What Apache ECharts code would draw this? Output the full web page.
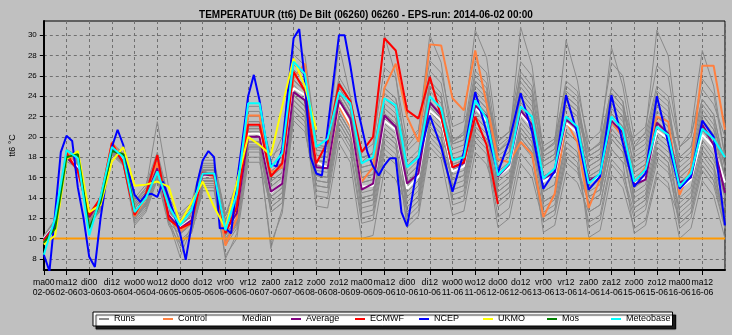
<!DOCTYPE html>
<html><head><meta charset="utf-8">
<script src="https://cdn.jsdelivr.net/npm/echarts@6/dist/echarts.min.js"></script>
<style>html,body{margin:0;padding:0;background:#c0c0c0}#c{width:732px;height:335px}</style>
</head><body><div id="c"></div><script>
// ---------- DATA ----------
const titleText = 'TEMPERATUUR (tt6) De Bilt (06260) 06260 - EPS-run: 2014-06-02 00:00';
const yTickValues = [8,10,12,14,16,18,20,22,24,26,28,30];
const dayTimeLabels = ['ma00','ma12','di00','di12','wo00','wo12','do00','do12','vr00','vr12','za00','za12','zo00','zo12','ma00','ma12','di00','di12','wo00','wo12','do00','do12','vr00','vr12','za00','za12','zo00','zo12','ma00','ma12'];
const dateLabels = ['02-06','02-06','03-06','03-06','04-06','04-06','05-06','05-06','06-06','06-06','07-06','07-06','08-06','08-06','09-06','09-06','10-06','10-06','11-06','11-06','12-06','12-06','13-06','13-06','14-06','14-06','15-06','15-06','16-06','16-06'];
const thresholdHours = [0, 360];
const thresholdValues = [10, 10];

function range(a,b,s){const r=[];for(let h=a;h<=b;h+=s)r.push(h);return r;}
const hours6 = range(0,360,6);
const hoursEcmwf = range(0,240,6);
const hoursUkmo = range(0,144,6);
const hoursMos = range(0,48,6);
const hoursNcep = range(0,192,3).concat(range(198,360,6));

// ensemble members (6-hourly, 0..360h)
const run01=[10.1,11.7,18.4,17.7,12.4,13.7,19.2,18.2,13.3,14.6,17.8,13.3,11.5,12.5,16.7,16.7,12.3,14.0,21.5,21.5,17.1,18.0,27.1,26.0,19.2,19.0,25.4,23.5,18.5,19.3,26.8,25.8,19.6,20.7,27.5,26.3,21.0,21.5,30.5,27.8,19.5,20.5,27.4,26.0,18.6,19.5,25.5,24.5,19.5,20.5,27.3,26.0,20.0,21.0,27.0,26.0,19.0,20.0,25.7,24.2,18.0];
const run02=[9.7,11.3,18.0,17.3,11.5,12.8,18.3,17.3,11.7,13.0,16.2,11.7,8.2,11.0,15.2,15.2,9.3,11.0,18.5,18.5,9.0,13.0,22.1,21.0,14.2,14.0,20.4,18.5,11.5,11.8,18.3,17.3,12.6,13.7,20.5,19.3,13.8,14.2,20.0,18.8,12.1,13.0,18.4,17.0,12.1,12.8,18.0,17.0,11.6,12.3,17.8,16.5,12.5,13.3,18.0,17.0,11.5,12.5,17.2,15.7,12.0];
const run03=[10.2,11.8,18.5,17.8,12.6,13.9,19.4,18.4,14.0,15.3,18.5,14.0,12.2,13.2,17.4,17.4,12.3,15.0,22.5,22.5,18.1,19.0,28.1,27.0,19.7,19.5,25.9,24.0,16.5,16.8,23.3,22.3,15.6,16.7,23.5,22.3,15.8,16.2,22.0,20.8,14.1,15.0,20.4,19.0,14.6,15.3,20.5,19.5,16.1,16.8,22.3,21.0,17.5,18.3,23.0,22.0,18.0,19.0,23.7,22.2,17.0];
const run04=[9.6,11.2,17.9,17.2,11.7,13.0,18.5,17.5,13.0,14.3,17.5,13.0,10.5,11.5,15.7,15.7,10.0,11.7,19.2,19.2,13.1,14.0,23.1,22.0,15.2,15.0,21.4,19.5,14.0,14.3,20.8,19.8,16.1,17.2,24.0,22.8,19.3,19.7,25.5,24.3,18.6,19.8,26.4,25.0,18.5,19.5,29.5,25.5,18.6,19.3,24.8,23.5,16.5,17.3,22.0,21.0,14.0,15.0,19.7,18.2,14.0];
const run05=[10.0,11.6,18.3,17.6,12.2,13.5,19.0,18.0,12.0,13.3,16.5,12.0,11.8,12.8,17.0,17.0,11.8,13.5,21.0,21.0,15.1,16.0,25.1,24.0,16.2,16.0,22.4,20.5,12.5,12.8,19.3,18.3,11.6,12.7,19.5,18.3,14.8,15.2,21.0,19.8,16.1,17.0,22.4,21.0,17.1,17.8,23.0,22.0,18.1,18.8,24.3,23.0,19.5,20.3,25.0,24.0,19.0,20.5,28.5,25.0,18.0];
const run06=[9.8,11.4,18.1,17.4,11.8,13.1,18.6,17.6,12.8,14.1,17.3,12.8,10.4,11.4,15.6,15.6,11.3,13.0,20.5,20.5,16.1,17.0,26.1,25.0,19.0,18.8,25.2,23.3,17.5,18.5,30.0,26.0,17.1,18.2,25.0,23.8,17.3,17.7,23.5,22.3,14.6,15.5,20.9,19.5,12.6,13.3,18.5,17.5,11.1,11.8,17.3,16.0,12.0,12.8,17.5,16.5,13.0,14.0,18.7,17.2,13.0];
const run07=[10.3,11.9,18.6,17.9,12.5,13.8,19.3,18.3,13.5,15.0,21.5,15.0,11.3,12.3,16.5,16.5,10.3,12.0,19.5,19.5,13.6,14.5,23.6,22.5,17.7,17.5,23.9,22.0,17.0,17.3,23.8,22.8,18.6,19.7,26.5,25.3,19.5,20.5,27.5,26.3,18.6,19.5,24.9,23.5,16.1,16.8,22.0,21.0,14.1,14.8,20.3,19.0,13.0,13.8,18.5,17.5,11.0,12.0,16.7,15.2,11.0];
const run08=[9.5,11.1,17.8,17.1,11.4,12.7,18.2,17.2,12.2,13.5,16.7,12.2,10.7,11.7,15.9,15.9,11.1,12.8,20.3,20.3,15.6,16.5,25.6,24.5,18.7,18.5,24.9,23.0,15.0,15.3,21.8,20.8,13.6,14.7,21.5,20.3,13.3,13.7,19.5,18.3,11.1,12.0,17.4,16.0,11.6,12.3,17.5,16.5,13.6,14.3,19.8,18.5,15.5,16.3,21.0,20.0,16.5,17.5,22.2,20.7,16.0];
const run09=[9.9,11.5,18.2,17.5,12.3,13.6,19.1,18.1,13.3,14.6,17.8,13.3,11.8,12.8,17.0,17.0,11.8,14.5,22.0,22.0,16.6,17.5,26.6,25.5,18.2,18.0,24.4,22.5,18.0,18.3,24.8,23.8,19.0,20.5,30.0,27.3,19.5,20.2,26.5,25.3,17.6,18.5,23.9,22.5,18.1,18.8,24.0,23.0,18.5,19.5,28.8,25.0,18.5,19.3,24.0,23.0,17.0,18.0,22.7,21.2,17.0];
const run10=[10.1,11.2,18.0,17.3,11.7,13.0,18.5,17.5,12.3,13.6,16.8,12.3,9.8,10.8,15.0,15.0,8.0,10.5,18.0,18.0,9.5,12.5,21.6,20.5,15.2,15.0,21.4,19.5,14.0,14.3,20.8,19.8,15.1,16.2,23.0,21.8,17.8,18.2,24.0,22.8,18.1,19.0,24.4,23.0,19.1,19.8,25.0,24.0,17.1,17.8,23.3,22.0,14.5,15.3,20.0,19.0,12.5,13.5,18.2,16.7,12.0];
const run11=[9.7,11.6,18.4,17.7,12.1,13.4,18.9,17.9,13.7,15.0,18.2,13.7,11.2,12.2,16.4,16.4,11.6,13.3,20.8,20.8,14.1,15.0,24.1,23.0,15.7,15.5,21.9,20.0,16.0,16.3,22.8,21.8,17.1,18.2,25.0,23.8,16.3,16.7,22.5,21.3,13.6,14.5,19.9,18.5,10.6,11.3,16.5,15.5,12.6,13.3,18.8,17.5,10.5,11.3,16.0,15.0,12.0,13.0,17.7,16.2,12.0];
const run12=[10.2,11.5,18.2,17.5,12.0,13.3,18.8,17.8,12.5,13.8,17.0,12.5,12.5,13.5,17.7,17.7,12.3,15.5,23.0,23.0,17.5,20.0,29.1,28.0,19.7,19.5,29.0,24.0,18.0,18.3,24.8,23.8,16.6,17.7,24.5,23.3,18.8,19.2,25.0,23.8,19.6,20.5,25.9,24.5,17.1,17.8,23.0,22.0,15.6,16.3,21.8,20.5,13.5,14.3,19.0,18.0,15.0,16.0,20.7,19.2,15.0];
const run13=[9.6,11.9,17.6,16.9,12.4,13.7,19.2,18.2,11.9,13.2,16.4,11.9,9.0,11.2,15.4,15.4,9.8,11.5,19.0,19.0,14.6,15.5,24.6,23.5,17.7,17.5,23.9,22.0,13.5,13.8,20.3,19.3,11.1,12.2,19.0,17.8,12.3,12.7,18.5,17.3,13.6,14.5,19.9,18.5,15.6,16.3,21.5,20.5,17.6,18.3,23.8,22.5,19.0,20.5,30.5,28.0,19.0,20.0,24.7,23.2,20.0];
const run14=[10.0,11.1,18.8,18.1,11.6,12.9,18.4,17.4,13.1,14.4,17.6,13.1,11.6,12.6,16.8,16.8,10.8,12.5,20.0,20.0,12.6,13.5,22.6,21.5,13.2,13.0,19.4,17.5,10.0,10.3,16.8,15.8,13.1,14.2,21.0,19.8,17.3,17.7,23.5,22.3,17.1,18.0,23.4,22.0,13.6,14.3,19.5,18.5,10.1,10.8,16.3,15.0,11.0,11.8,16.5,15.5,10.0,11.0,15.7,14.2,10.0];
const run15=[9.9,11.5,18.2,17.5,12.2,13.5,19.0,18.0,12.1,13.4,16.6,12.1,11.0,12.0,16.2,16.2,11.0,13.7,21.2,21.2,15.6,16.5,25.6,24.5,19.2,19.0,25.4,23.5,14.5,14.8,21.3,20.3,14.1,15.2,22.0,20.8,18.3,18.7,24.5,23.3,18.5,19.5,30.8,27.0,18.6,19.3,24.5,23.5,16.6,17.3,22.8,21.5,19.0,19.8,24.5,23.5,16.0,17.0,21.7,20.2,16.0];
const run16=[9.8,11.4,18.4,17.3,11.5,12.8,18.6,17.6,13.0,14.3,16.5,12.8,11.5,12.5,16.7,16.2,10.3,12.0,20.5,20.0,15.1,16.0,24.1,23.0,16.7,16.5,23.9,22.0,15.5,15.8,22.3,21.3,15.1,16.2,23.0,21.8,16.8,17.2,23.0,21.8,15.6,16.5,21.9,20.5,16.1,16.8,22.0,21.0,15.1,15.8,21.3,20.0,16.0,16.8,21.5,20.5,15.5,16.5,21.2,19.7,15.0];
const run17=[10.0,11.6,18.3,17.6,11.8,13.1,18.6,17.6,13.0,14.3,17.5,13.0,9.5,10.5,14.7,14.7,10.3,12.0,19.5,19.5,16.1,17.0,26.1,25.0,16.2,16.0,22.4,20.5,17.5,17.8,24.3,23.3,12.1,13.2,20.0,18.8,19.8,20.2,26.0,24.8,14.1,15.0,20.4,19.0,17.6,18.3,23.5,22.5,12.6,13.3,18.8,17.5,16.5,17.3,22.0,21.0,13.5,14.5,19.2,17.7,15.0];
const run18=[9.7,11.3,18.0,17.3,12.3,13.6,19.1,18.1,12.2,13.5,16.7,12.2,11.3,12.3,16.5,16.5,11.6,13.3,20.8,20.8,14.1,15.0,24.1,23.0,18.2,18.0,24.4,22.5,13.0,13.3,19.8,18.8,17.6,18.7,25.5,24.3,14.8,15.2,21.0,19.8,19.1,20.0,25.4,24.0,13.1,13.8,19.0,18.0,18.1,18.8,24.3,23.0,14.0,14.8,19.5,18.5,18.0,19.0,23.7,22.2,17.0];
const run19=[10.1,11.7,18.4,17.7,12.5,13.8,19.3,18.3,13.5,14.8,18.0,13.5,11.0,12.0,16.2,16.2,9.6,11.3,18.8,18.8,12.6,13.5,22.6,21.5,16.2,16.0,22.4,20.5,15.0,15.3,21.8,20.8,17.1,18.2,25.0,23.8,17.8,18.2,24.0,22.8,15.1,16.0,21.4,20.0,13.6,14.3,19.5,18.5,14.6,15.3,20.8,19.5,17.0,17.8,22.5,21.5,17.5,18.5,23.2,21.7,16.0];
const run20=[9.8,11.4,18.1,17.4,11.7,13.0,18.5,17.5,12.0,13.3,16.5,12.0,11.3,12.3,16.5,16.5,11.3,13.0,20.5,20.5,15.6,16.5,25.6,24.5,14.7,14.5,20.9,19.0,12.0,12.3,18.8,17.8,14.1,15.2,22.0,20.8,16.8,17.2,23.0,21.8,17.6,18.5,23.9,22.5,16.1,16.8,22.0,21.0,14.1,14.8,20.3,19.0,15.0,15.8,20.5,19.5,11.5,12.5,17.2,15.7,11.0];
const run21=[9.9,11.5,18.2,17.5,12.0,13.3,18.8,17.8,12.8,14.1,17.3,12.8,11.5,12.5,16.7,16.7,10.3,12.0,19.5,19.5,14.6,15.5,24.6,23.5,18.7,18.5,24.9,23.0,16.0,16.3,22.8,21.8,14.6,15.7,22.5,21.3,15.3,15.7,21.5,20.3,16.6,17.5,22.9,21.5,18.1,18.8,24.0,23.0,17.1,17.8,23.3,22.0,13.5,14.3,19.0,18.0,16.0,17.0,21.7,20.2,14.0];
const run22=[10.2,11.8,18.5,17.8,11.9,13.2,18.7,17.7,11.5,12.8,16.0,11.5,10.5,11.5,15.7,15.7,9.8,11.5,19.0,19.0,13.6,14.5,23.6,22.5,17.2,17.0,23.4,21.5,15.5,15.8,22.3,21.3,13.1,14.2,21.0,19.8,14.3,14.7,20.5,19.3,14.6,15.5,20.9,19.5,14.6,15.3,20.5,19.5,16.1,16.8,22.3,21.0,16.5,17.3,22.0,21.0,15.0,16.0,20.7,19.2,15.0];
const run23=[9.9,11.7,18.2,17.7,12.2,13.5,19.0,18.0,12.5,13.8,17.0,12.5,12.0,13.0,17.2,17.2,12.3,14.0,21.5,21.5,16.6,17.5,26.6,25.5,17.7,17.5,23.9,22.0,17.0,17.3,23.8,22.8,16.1,17.2,24.0,22.8,19.3,19.7,25.5,24.3,19.6,20.5,25.9,24.5,17.6,18.3,23.5,22.5,18.6,19.3,24.8,23.5,18.0,18.8,23.5,22.5,16.5,17.5,22.2,20.7,18.0];
const run24=[9.6,11.2,17.9,17.2,11.6,12.9,18.4,17.4,11.3,12.6,15.8,11.3,9.5,10.5,14.7,14.7,8.3,10.0,17.5,17.5,13.1,14.0,23.1,22.0,15.7,15.5,21.9,20.0,13.5,13.8,20.3,19.3,12.6,13.7,20.5,19.3,15.8,16.2,22.0,20.8,13.1,14.0,19.4,18.0,12.1,12.8,18.0,17.0,13.6,14.3,19.8,18.5,13.0,13.8,18.5,17.5,13.0,14.0,18.7,17.2,11.0];
const runs = [run01,run02,run03,run04,run05,run06,run07,run08,run09,run10,run11,run12,run13,run14,run15,run16,run17,run18,run19,run20,run21,run22,run23,run24];

const control=[9.7,11.3,18.6,17.0,12.0,13.9,19.5,17.8,12.2,14.0,17.5,12.1,10.7,11.6,16.4,16.0,9.3,12.0,22.1,22.1,16.5,17.0,25.8,27.2,17.5,17.0,23.0,21.0,15.6,17.0,24.8,27.2,22.0,19.5,29.1,29.0,23.8,22.6,28.5,23.3,17.8,17.5,19.5,18.3,12.1,14.4,21.5,19.5,13.0,15.9,21.5,20.0,15.5,17.0,22.0,21.5,14.3,16.9,27.0,27.0,20.7];
const median=[10.0,11.4,18.2,17.0,12.3,13.8,19.1,17.8,12.6,14.2,16.8,12.4,11.1,11.9,16.2,16.2,10.9,12.6,20.3,20.3,14.5,15.5,24.8,24.1,17.5,17.0,23.3,21.3,15.1,15.2,21.6,20.7,14.9,16.1,22.6,21.6,16.6,17.1,22.9,21.6,16.1,17.0,22.3,21.0,15.6,16.3,21.4,20.4,15.5,16.2,21.7,20.4,15.4,16.0,20.6,19.8,14.9,15.8,20.2,19.0,15.5];
const average=[9.9,11.3,18.0,16.8,12.1,13.8,19.0,17.6,12.5,14.2,16.9,12.3,11.0,11.8,16.3,16.2,10.8,12.5,20.0,20.0,14.6,15.4,24.4,23.6,17.0,16.9,23.6,21.8,14.8,15.4,22.1,21.0,15.4,16.4,23.4,22.1,17.0,17.4,23.1,22.0,16.1,17.3,22.6,21.2,15.9,16.5,21.7,20.8,15.7,16.3,21.6,20.4,15.3,15.8,21.4,20.3,15.5,16.0,21.2,19.2,14.5];
const ecmwf=[9.8,11.2,18.4,16.6,12.3,14.0,19.4,17.4,12.3,14.4,18.2,11.9,11.0,11.5,16.5,16.2,10.5,13.1,21.2,21.2,16.1,17.4,26.4,24.5,17.4,19.5,25.2,23.5,18.5,20.0,29.7,28.5,22.6,21.8,25.9,22.0,17.0,17.5,22.0,19.2,13.4];
const ncep=[8.4,6.8,12.5,18.5,20.1,19.6,15.0,12.0,8.2,7.2,12.0,15.7,19.0,20.7,19.2,16.4,14.3,13.6,14.3,14.4,14.1,15.6,14.0,12.3,10.5,7.9,11.2,15.4,17.7,18.6,18.0,11.0,11.0,10.5,15.5,19.6,24.0,26.1,23.6,20.0,17.3,17.1,18.8,24.5,29.7,30.6,25.5,18.0,16.4,16.2,20.8,25.4,30.0,30.0,27.0,23.5,21.0,18.5,17.1,16.2,17.2,17.9,17.9,12.6,11.2,17.7,22.1,19.0,14.6,18.5,24.4,20.5,16.5,19.6,24.3,20.5,14.9,16.6,24.1,20.3,14.8,16.1,24.1,19.4,15.1,16.4,24.0,19.4,14.9,16.1,21.6,20.0,11.3];
const ukmo=[9.4,10.3,17.8,18.6,12.6,13.3,17.6,19.0,15.2,15.3,15.6,15.1,11.5,13.5,15.6,13.1,11.0,15.5,20.0,19.2,18.2,23.0,27.7,25.0,20.7];
const mos=[9.6,11.0,18.0,18.3,11.0,13.6,18.6,18.3,12.8];
const meteobase=[8.4,12.0,18.7,17.9,10.3,14.1,19.0,18.0,12.6,14.0,16.6,13.2,11.3,12.8,16.4,16.4,10.8,14.4,23.3,23.3,17.0,18.4,27.4,26.2,19.0,19.8,24.4,23.3,17.4,18.0,23.8,23.1,17.0,18.0,24.0,22.8,17.7,18.0,23.6,21.8,16.2,17.4,23.0,22.0,15.9,16.9,22.0,21.0,15.4,16.4,22.0,20.7,15.6,16.8,21.0,20.2,15.1,16.4,20.8,19.8,18.0];

// ---------- CHART ----------
const FONT = "'Liberation Sans', Arial, sans-serif";
const pts = (hs, vs) => vs.map((v,i)=>[hs[i], v]);
function line(name, color, hs, vs, width){
  return {name, type:'line', data: pts(hs, vs), symbol:'none', color,
    lineStyle:{color, width}, animation:false, silent:true, connectNulls:true};
}
const series = [];
runs.forEach(r => series.push(line('Runs', '#8a8a8a', hours6, r, 1)));
series.push(line('threshold', '#ff9900', thresholdHours, thresholdValues, 2));
series.push(line('Control', '#ff8040', hours6, control, 2));
series.push(line('Median', '#ffffff', hours6, median, 2));
series.push(line('Average', '#800080', hours6, average, 2));
series.push(line('ECMWF', '#ff0000', hoursEcmwf, ecmwf, 2));
series.push(line('NCEP', '#0000ff', hoursNcep, ncep, 2));
series.push(line('UKMO', '#ffff00', hoursUkmo, ukmo, 2));
series.push(line('Mos', '#008000', hoursMos, mos, 2));
series.push(line('Meteobase', '#00ffff', hours6, meteobase, 2));

const chart = echarts.init(document.getElementById('c'), null, {renderer:'canvas'});
chart.setOption({
  animation:false,
  backgroundColor:'#c0c0c0',
  title:{text:titleText, left:'center', top:5, textStyle:{fontSize:10, fontWeight:'bold', color:'#000', fontFamily:FONT}},
  grid:{left:39, right:7, top:21, bottom:65, show:true, borderColor:'#000', borderWidth:1, backgroundColor:'transparent'},
  xAxis:{type:'value', min:0, max:360, interval:12,
    axisLine:{show:true, onZero:false, lineStyle:{color:'#000', width:2}},
    axisTick:{show:true, length:5, lineStyle:{color:'#000'}},
    axisLabel:{color:'#000', fontSize:8.7, fontFamily:FONT, lineHeight:10, margin:8, showMinLabel:true, showMaxLabel:false, hideOverlap:false,
      formatter:v => { const i = Math.round(v/12); return i < dayTimeLabels.length ? dayTimeLabels[i] + '\n' + dateLabels[i] : ''; }},
    splitLine:{show:true, lineStyle:{color:'#707070', type:[3,3], width:1}}
  },
  yAxis:{type:'value', min:6.9, max:31.4,
    name:'tt6 °C', nameLocation:'middle', nameGap:25, nameRotate:90,
    nameTextStyle:{fontSize:9, color:'#000', fontFamily:FONT},
    axisLine:{show:true, lineStyle:{color:'#000', width:2}},
    axisTick:{show:true, length:4, customValues:yTickValues, lineStyle:{color:'#000'}},
    axisLabel:{customValues:yTickValues, color:'#000', fontSize:8, fontFamily:FONT, margin:7},
    splitLine:{show:true, lineStyle:{color:'#707070', type:[3,3], width:1}}
  },
  legend:{data:['Runs','Control','Median','Average','ECMWF','NCEP','UKMO','Mos','Meteobase'],
    left:93, top:312, orient:'horizontal', icon:'rect', itemWidth:10, itemHeight:2, itemGap:5,
    padding:[1,2,1,6], backgroundColor:'#ffffff', borderColor:'#000', borderWidth:1, borderRadius:0,
    shadowColor:'rgba(0,0,0,0.85)', shadowOffsetX:3, shadowOffsetY:3, shadowBlur:1,
    selectedMode:false,
    textStyle:{fontSize:9, width:44, color:'#000', fontFamily:FONT, lineHeight:12}
  },
  series
});
</script></body></html>
